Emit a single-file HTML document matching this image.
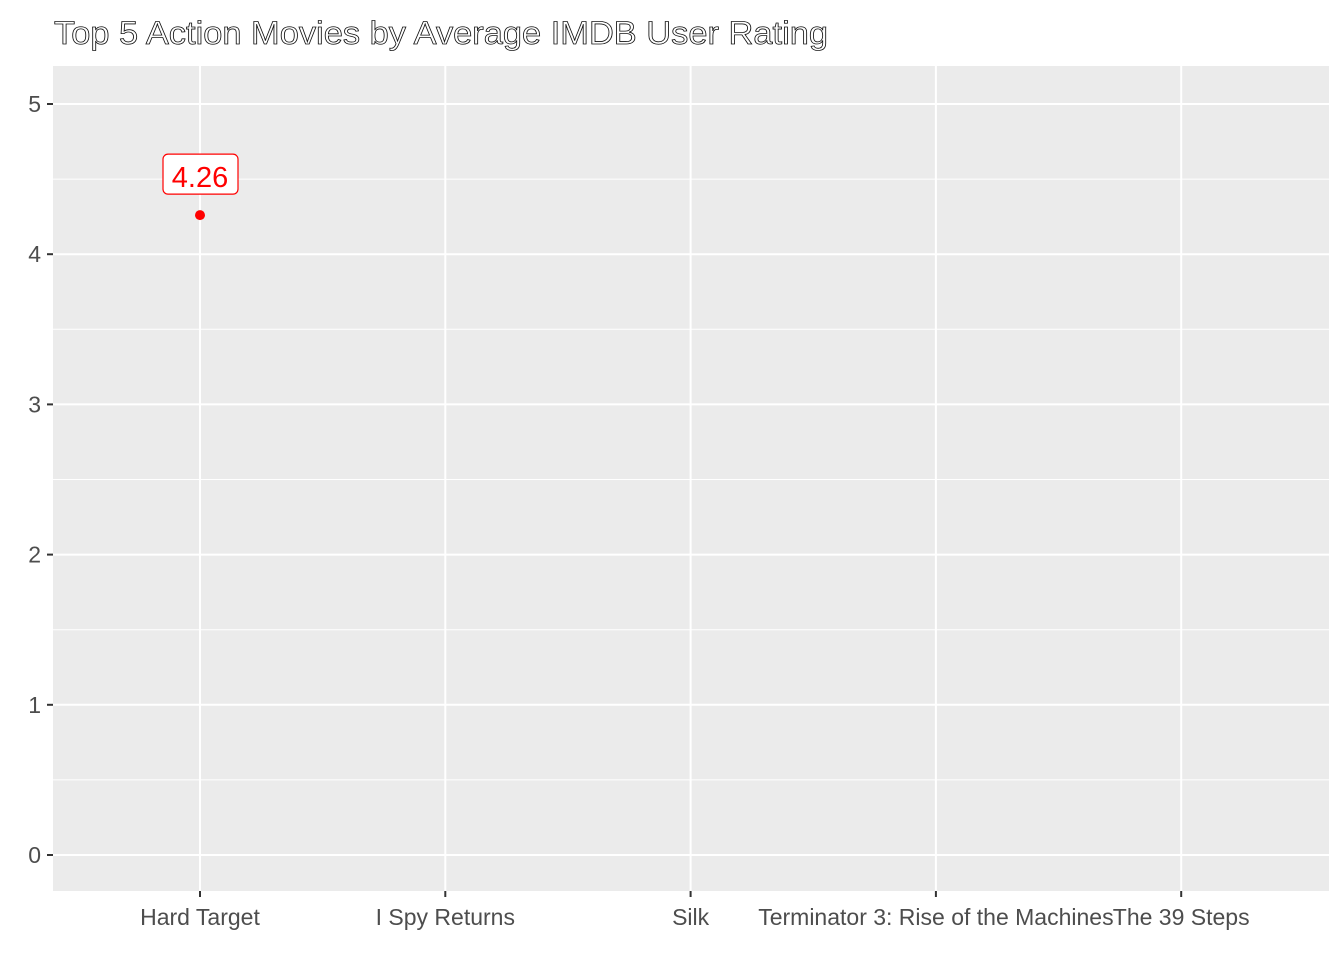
<!DOCTYPE html>
<html><head><meta charset="utf-8"><style>
body{margin:0;background:#fff}
svg{display:block;font-family:"Liberation Sans",sans-serif}
</style></head><body>
<svg id="chart" width="1344" height="960">
<text x="54" y="44" font-size="32" fill="#fff" stroke="#111" stroke-width="0.8" textLength="774" lengthAdjust="spacingAndGlyphs">Top 5 Action Movies by Average IMDB User Rating</text>
<rect x="53" y="66" width="1276" height="825" fill="#ebebeb"/>
<g id="grid"></g><g id="axes"></g><g id="marks"></g>
</svg>
<script>
const categories=["Hard Target","I Spy Returns","Silk","Terminator 3: Rise of the Machines","The 39 Steps"];
const ratings=[4.26,null,null,null,null];
const yTicks=[0,1,2,3,4,5];
const NS="http://www.w3.org/2000/svg";
const x0=200,dx=245.3;
const X=i=>x0+i*dx;
const Y=v=>855-v*150.2;
function mk(p,t,a){const e=document.createElementNS(NS,t);for(const k in a)e.setAttribute(k,a[k]);document.getElementById(p).appendChild(e);return e;}
for(let v=-0.5;v<=5.5;v+=0.5){const y=Y(v);if(y<66||y>891)continue;
 const major=Number.isInteger(v);
 const l=mk('grid','line',{x1:53,x2:1329,y1:y,y2:y,stroke:'#fff','stroke-width':major?2:1});
 
 }
categories.forEach((c,i)=>{
 const l=mk('grid','line',{x1:X(i),x2:X(i),y1:66,y2:891,stroke:'#fff','stroke-width':2});
 
 
 const t=mk('axes','line',{x1:X(i),x2:X(i),y1:891,y2:897,stroke:'#333','stroke-width':2});
 
 
 const tx=mk('axes','text',{x:X(i),y:925,'font-size':23,fill:'#4d4d4d','text-anchor':'middle'});
 tx.textContent=c;
 
 
});
yTicks.forEach(v=>{
 const t=mk('axes','line',{x1:47,x2:53,y1:Y(v),y2:Y(v),stroke:'#333','stroke-width':2});
 
 
 const tx=mk('axes','text',{x:41,y:Y(v)+8,'font-size':23,fill:'#4d4d4d','text-anchor':'end'});
 tx.textContent=v;
 
 
});
ratings.forEach((r,i)=>{
 if(r==null)return;
 const c=mk('marks','circle',{cx:X(i),cy:Y(r),r:5,fill:'#ff0000'});
 
 
 const b=mk('marks','rect',{x:X(i)-37,y:Y(r)-61,width:75,height:40,rx:5,fill:'#fff',stroke:'#ff0000','stroke-width':1.2});
 
 
 const t=mk('marks','text',{x:X(i),y:Y(r)-28,'font-size':29,fill:'#ff0000','text-anchor':'middle'});
 t.textContent=r.toFixed(2);
 
 
});
</script>
</body></html>
